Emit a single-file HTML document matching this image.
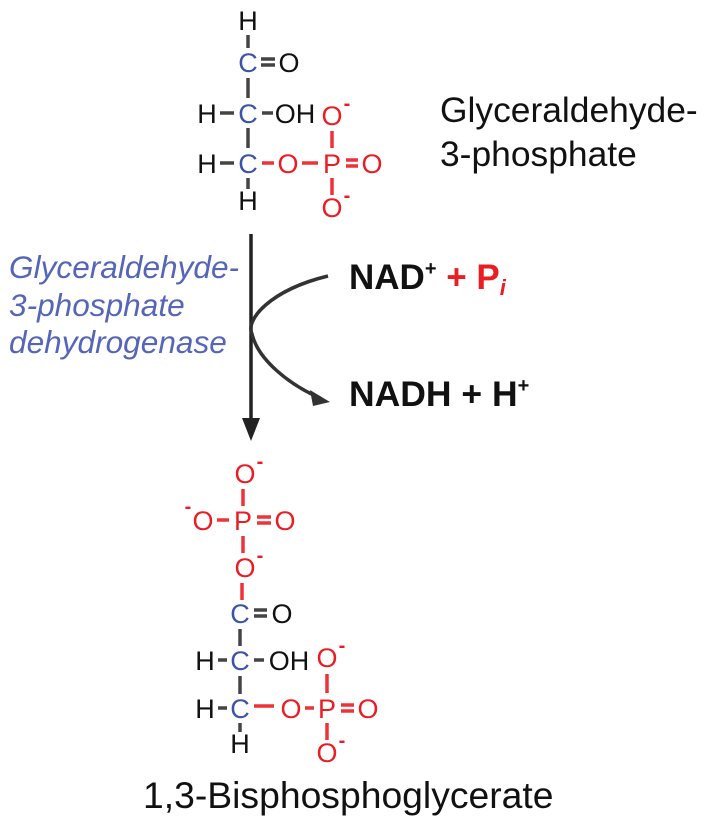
<!DOCTYPE html>
<html><head><meta charset="utf-8"><style>
html,body{margin:0;padding:0;background:#fff;}
svg{display:block;font-family:"Liberation Sans",Arial,sans-serif;}
.k{fill:#111}.b{fill:#3a55a8}.r{fill:#ec1c24}
.a{font-size:27px;text-anchor:middle}
.m{font-size:20px;text-anchor:middle;font-weight:bold}
.lk{stroke:#444;stroke-width:3.5}.lr{stroke:#ee3338;stroke-width:3.5}
</style></head><body>
<svg width="716" height="818" viewBox="0 0 716 818" xmlns="http://www.w3.org/2000/svg">
<g>
<text class="a k" x="248" y="30">H</text>
<line class="lk" x1="248" y1="35" x2="248" y2="48"/>
<text class="a b" x="248" y="72">C</text>
<line class="lk" x1="261" y1="59" x2="275" y2="59"/><line class="lk" x1="261" y1="65" x2="275" y2="65"/>
<text class="a k" x="289" y="72">O</text>
<line class="lk" x1="248" y1="78" x2="248" y2="98"/>
<text class="a k" x="207" y="123">H</text>
<line class="lk" x1="220" y1="113" x2="234" y2="113"/>
<text class="a b" x="248" y="123">C</text>
<line class="lk" x1="262" y1="113" x2="273" y2="113"/>
<text class="a k" x="295" y="123">OH</text>
<text class="a r" x="332" y="125">O</text><text class="m r" x="347" y="110">-</text>
<line class="lr" x1="332" y1="131" x2="332" y2="148"/>
<line class="lk" x1="248" y1="128" x2="248" y2="148"/>
<text class="a k" x="207" y="173">H</text>
<line class="lk" x1="220" y1="163" x2="234" y2="163"/>
<text class="a b" x="248" y="173">C</text>
<line class="lr" x1="262" y1="163" x2="274" y2="163"/>
<text class="a r" x="288" y="173">O</text>
<line class="lr" x1="302" y1="163" x2="318" y2="163"/>
<text class="a r" x="332" y="173">P</text>
<line class="lr" x1="346" y1="160" x2="358" y2="160"/><line class="lr" x1="346" y1="166" x2="358" y2="166"/>
<text class="a r" x="372" y="173">O</text>
<line class="lk" x1="248" y1="178" x2="248" y2="189"/>
<text class="a k" x="248" y="210">H</text>
<line class="lr" x1="332" y1="178" x2="332" y2="195"/>
<text class="a r" x="332" y="217">O</text><text class="m r" x="347" y="202">-</text>
</g>
<text x="440" y="122" font-size="35.4" class="k">Glyceraldehyde-</text>
<text x="440" y="166" font-size="35.4" class="k">3-phosphate</text>

<line x1="251" y1="234" x2="251" y2="425" stroke="#222" stroke-width="3.5"/>
<polygon points="242,418 260,418 251,441" fill="#222"/>
<path d="M328,276 C270,290 245,320 252,334 C258,360 290,385 320,398" fill="none" stroke="#333" stroke-width="3.5"/>
<polygon points="330,402 310,390 313,406" fill="#333"/>

<g font-style="italic" fill="#5566b8" font-size="31.6">
<text x="9" y="278">Glyceraldehyde-</text>
<text x="9" y="316">3-phosphate</text>
<text x="9" y="353">dehydrogenase</text>
</g>
<text x="349" y="289" font-size="35" font-weight="bold" class="k">NAD<tspan font-size="20" dy="-14">+</tspan><tspan dy="14" class="r"> + P</tspan><tspan class="r" font-style="italic" font-size="22" dy="6">i</tspan></text>
<text x="349" y="406" font-size="35.5" font-weight="bold" class="k">NADH + H<tspan font-size="20" dy="-14">+</tspan></text>

<g>
<text class="a r" x="245" y="483">O</text><text class="m r" x="260" y="468">-</text>
<line class="lr" x1="243" y1="489" x2="243" y2="506"/>
<text class="m r" x="188" y="513">-</text>
<text class="a r" x="203" y="530">O</text>
<line class="lr" x1="217" y1="520" x2="229" y2="520"/>
<text class="a r" x="243" y="530">P</text>
<line class="lr" x1="257" y1="517" x2="271" y2="517"/><line class="lr" x1="257" y1="523" x2="271" y2="523"/>
<text class="a r" x="285" y="530">O</text>
<line class="lr" x1="243" y1="536" x2="243" y2="553"/>
<text class="a r" x="245" y="577">O</text><text class="m r" x="260" y="562">-</text>
<line class="lr" x1="242" y1="583" x2="242" y2="600"/>
<text class="a b" x="240" y="623">C</text>
<line class="lk" x1="254" y1="610" x2="267" y2="610"/><line class="lk" x1="254" y1="616" x2="267" y2="616"/>
<text class="a k" x="282" y="623">O</text>
<line class="lk" x1="240" y1="629" x2="240" y2="646"/>
<text class="a k" x="205" y="670">H</text>
<line class="lk" x1="218" y1="660" x2="227" y2="660"/>
<text class="a b" x="240" y="670">C</text>
<line class="lk" x1="254" y1="660" x2="264" y2="660"/>
<text class="a k" x="289" y="670">OH</text>
<text class="a r" x="327" y="667">O</text><text class="m r" x="342" y="652">-</text>
<line class="lr" x1="327" y1="674" x2="327" y2="693"/>
<line class="lk" x1="240" y1="676" x2="240" y2="694"/>
<text class="a k" x="205" y="718">H</text>
<line class="lk" x1="218" y1="708" x2="227" y2="708"/>
<text class="a b" x="240" y="718">C</text>
<line class="lr" x1="254" y1="706" x2="274" y2="706"/>
<text class="a r" x="291" y="718">O</text>
<line class="lr" x1="305" y1="708" x2="314" y2="708"/>
<text class="a r" x="327" y="718">P</text>
<line class="lr" x1="341" y1="705" x2="354" y2="705"/><line class="lr" x1="341" y1="711" x2="354" y2="711"/>
<text class="a r" x="368" y="718">O</text>
<line class="lk" x1="240" y1="723" x2="240" y2="732"/>
<text class="a k" x="240" y="753">H</text>
<line class="lr" x1="327" y1="723" x2="327" y2="740"/>
<text class="a r" x="327" y="762">O</text><text class="m r" x="342" y="747">-</text>
</g>
<text x="143" y="808" font-size="37.3" class="k">1,3-Bisphosphoglycerate</text>
</svg>
</body></html>
